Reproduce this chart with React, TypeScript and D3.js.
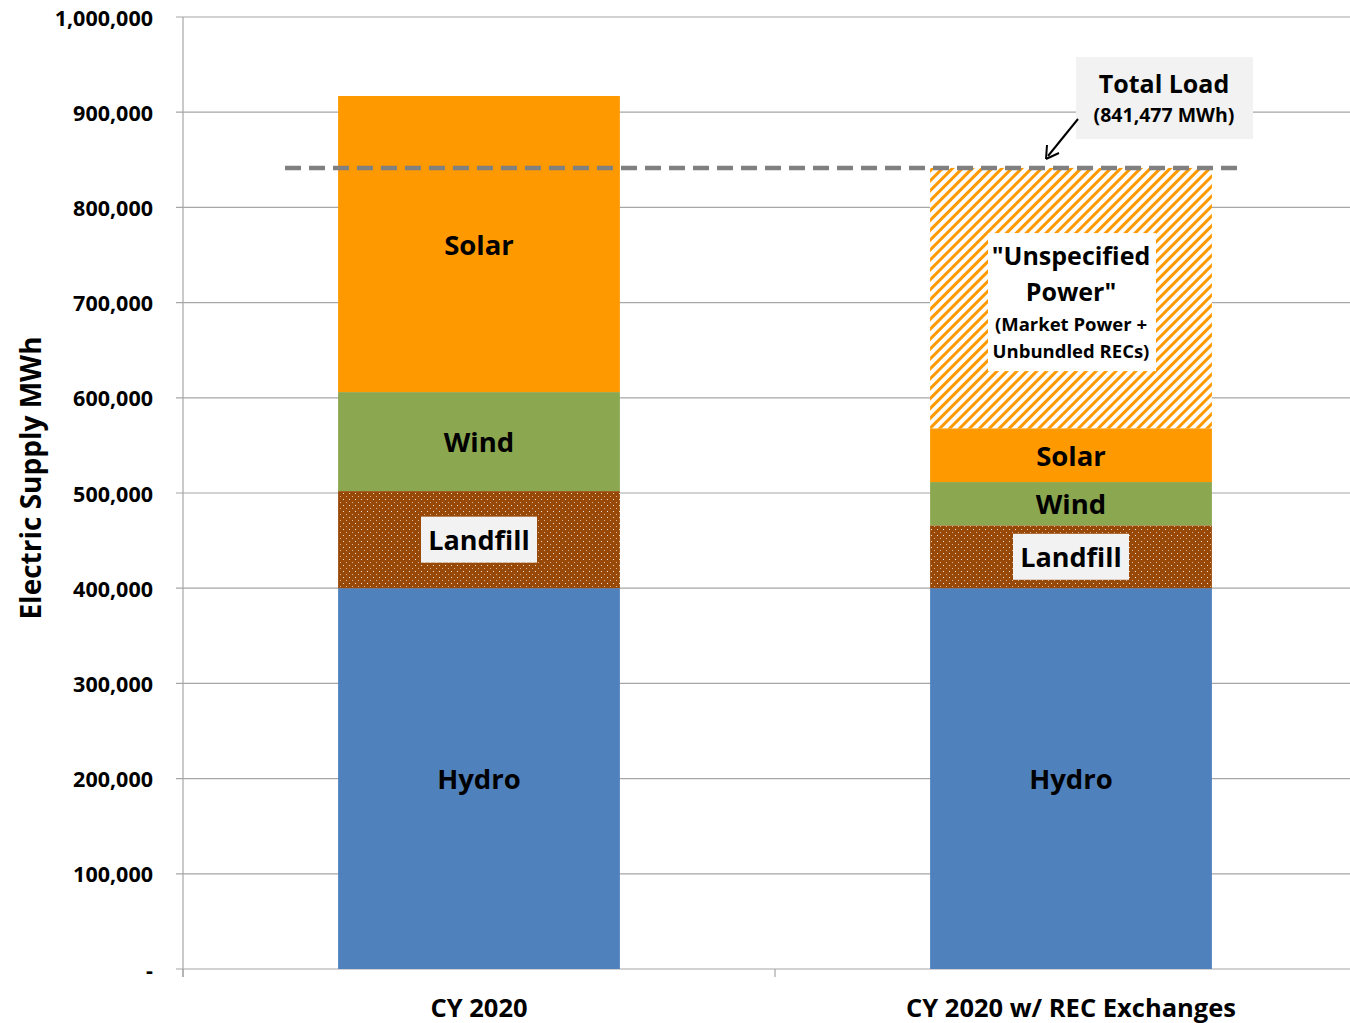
import { useEffect } from "react";
import * as d3 from "d3";

const categories = ["CY 2020", "CY 2020 w/ REC Exchanges"];
const sources = ["Hydro", "Landfill", "Wind", "Solar", "Unspecified"];
const hydro = [400000, 400000];
const landfill = [102000, 66000];
const wind = [104000, 45500];
const solar = [311000, 56500];
const unspecified = [0, 273477];
const totalLoad = 841477;
const yTicks = [0, 100000, 200000, 300000, 400000, 500000, 600000, 700000, 800000, 900000, 1000000];

const W = 1350;
const H = 1023;
const FONT = "'Open Sans', Lato, sans-serif";

const fills: Record<string, string> = {
  Hydro: "#4F81BD",
  Landfill: "url(#dots)",
  Wind: "#8BA750",
  Solar: "#FF9900",
  Unspecified: "url(#hatch)",
};

export default function App() {
  useEffect(() => {
    document.body.style.margin = "0";
  }, []);

  const x = d3.scaleBand().domain(categories).range([183, 1367]).paddingInner(0.524).paddingOuter(0.262);
  const y = d3.scaleLinear().domain([0, 1000000]).range([969, 17]);

  const rows = categories.map((c, i) => ({
    cat: c,
    Hydro: hydro[i],
    Landfill: landfill[i],
    Wind: wind[i],
    Solar: solar[i],
    Unspecified: unspecified[i],
  }));
  const stacked = d3.stack<any>().keys(sources)(rows);
  const seg = (key: string, i: number) => {
    const s = stacked.find((d) => d.key === key)!;
    return s[i];
  };
  const midY = (key: string, i: number) => {
    const d = seg(key, i);
    return (y(d[0]) + y(d[1])) / 2;
  };
  const cx = (i: number) => x(categories[i])! + x.bandwidth() / 2;
  const fmt = (v: number) => (v === 0 ? "-" : d3.format(",")(v));

  const label = (text: string, i: number, key: string, size = 27.5) => (
    <text
      key={key + i}
      x={cx(i)}
      y={midY(key, i)}
      textAnchor="middle"
      dominantBaseline="central"
      fontSize={size}
      fontWeight={700}
      fill="#000"
    >
      {text}
    </text>
  );

  const boxed = (text: string, i: number, key: string) => {
    const w = 116;
    const h = 46;
    return (
      <g key={"b" + key + i}>
        <rect x={cx(i) - w / 2} y={midY(key, i) - h / 2} width={w} height={h} fill="#F2F2F2" />
        {label(text, i, key, 27)}
      </g>
    );
  };

  const uy = midY("Unspecified", 1) + 4;

  return (
    <svg width={W} height={H} style={{ display: "block", fontFamily: FONT }}>
      <defs>
        <pattern id="dots" width="6" height="6" patternUnits="userSpaceOnUse">
          <rect width="6" height="6" fill="#984807" />
          <rect x="1" y="1" width="1" height="1" fill="#fff" opacity="0.85" />
          <rect x="4" y="4" width="1" height="1" fill="#fff" opacity="0.6" />
        </pattern>
        <pattern id="hatch" width="7" height="7" patternUnits="userSpaceOnUse" patternTransform="rotate(45)">
          <rect width="7" height="7" fill="#fff" />
          <rect width="3" height="7" fill="#FF9900" />
        </pattern>
      </defs>

      {/* gridlines */}
      {yTicks.map((t) => (
        <g key={t}>
          <line x1={176} x2={W} y1={y(t)} y2={y(t)} stroke="#A6A6A6" strokeWidth={1.2} />
          <text x={153} y={y(t)} textAnchor="end" dominantBaseline="central" fontSize={21.5} fontWeight={700}>
            {fmt(t)}
          </text>
        </g>
      ))}
      <line x1={183} x2={183} y1={17} y2={977} stroke="#A6A6A6" strokeWidth={1.2} />
      {[183, 775, 1367].map((tx) => (
        <line key={tx} x1={tx} x2={tx} y1={969} y2={977} stroke="#A6A6A6" strokeWidth={1.2} />
      ))}

      {/* bars */}
      {stacked.map((s) =>
        s.map((d, i) =>
          d[1] - d[0] > 0 ? (
            <rect
              key={s.key + i}
              x={x(categories[i])}
              y={y(d[1])}
              width={x.bandwidth()}
              height={y(d[0]) - y(d[1])}
              fill={fills[s.key]}
            />
          ) : null
        )
      )}

      {/* category labels */}
      {categories.map((c, i) => (
        <text key={c} x={cx(i)} y={1007} textAnchor="middle" dominantBaseline="central" fontSize={25.5} fontWeight={700}>
          {c}
        </text>
      ))}

      {/* segment labels */}
      {label("Solar", 0, "Solar")}
      {label("Wind", 0, "Wind")}
      {boxed("Landfill", 0, "Landfill")}
      {label("Hydro", 0, "Hydro")}
      {label("Solar", 1, "Solar")}
      {label("Wind", 1, "Wind")}
      {boxed("Landfill", 1, "Landfill")}
      {label("Hydro", 1, "Hydro")}

      {/* unspecified label */}
      <rect x={cx(1) - 83} y={uy - 69} width={168} height={138} fill="#fff" />
      <g textAnchor="middle" fontWeight={700} dominantBaseline="central">
        <text x={cx(1)} y={uy - 47} fontSize={25}>"Unspecified</text>
        <text x={cx(1)} y={uy - 11} fontSize={25}>Power"</text>
        <text x={cx(1)} y={uy + 21} fontSize={18.5}>(Market Power +</text>
        <text x={cx(1)} y={uy + 48} fontSize={18.5}>Unbundled RECs)</text>
      </g>

      {/* total load */}
      <line x1={285} x2={1240} y1={y(totalLoad)} y2={y(totalLoad)} stroke="#808080" strokeWidth={4.5} strokeDasharray="16 8" />
      <rect x={1076} y={57} width={177} height={82} fill="#F2F2F2" />
      <text x={1164} y={83} textAnchor="middle" dominantBaseline="central" fontSize={25} fontWeight={700}>
        Total Load
      </text>
      <text x={1164} y={114} textAnchor="middle" dominantBaseline="central" fontSize={19.5} fontWeight={700}>
        (841,477 MWh)
      </text>
      <line x1={1078} y1={119} x2={1048} y2={156} stroke="#000" strokeWidth={2} />
      <path d="M1046,159 L1047,145 M1046,159 L1059,153" stroke="#000" strokeWidth={2} fill="none" />

      {/* y title */}
      <text
        transform="translate(30,478) rotate(-90)"
        textAnchor="middle"
        dominantBaseline="central"
        fontSize={28}
        fontWeight={700}
      >
        Electric Supply MWh
      </text>
    </svg>
  );
}
